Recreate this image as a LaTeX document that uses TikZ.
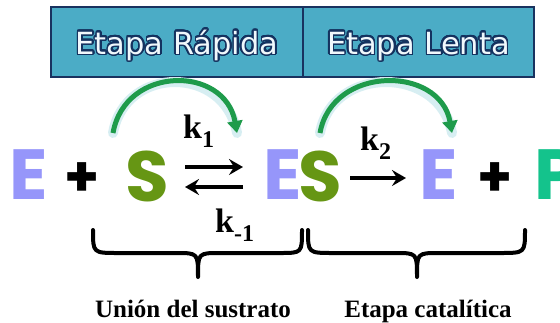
\documentclass[tikz,border=0pt]{standalone}
\usepackage{fontspec}
\setmainfont{Liberation Serif}
\newfontfamily\boxfont{DejaVu Sans}
\newfontfamily\bigfont{Poppins}
\usepackage[copies]{contour}
\contourlength{1.5pt}
\contournumber{32}
\usetikzlibrary{arrows.meta}
\definecolor{boxfill}{RGB}{75,172,198}
\definecolor{boxline}{RGB}{25,50,95}
\definecolor{titleblue}{RGB}{20,50,95}
\definecolor{titlefill}{RGB}{240,248,252}
\definecolor{enzcol}{RGB}{150,150,250}
\definecolor{subcol}{RGB}{102,150,20}
\definecolor{prodcol}{RGB}{20,195,140}
\definecolor{arcgreen}{RGB}{30,155,75}
\definecolor{glowblue}{RGB}{215,238,242}
\newcommand\ksub[2]{k\raisebox{-9pt}{\fontsize{24}{24}\selectfont #2}}
\begin{document}
\begin{tikzpicture}[x=1pt,y=-1pt,
 boxstyle/.style={draw=boxline,line width=2pt,fill=boxfill,minimum height=70pt,inner sep=0},
 boxtext/.style={font=\boxfont\fontsize{30.5}{30.5}\selectfont,text=titlefill,anchor=base,inner sep=0},
 bigletter/.style={font=\bigfont\bfseries\fontsize{71}{71}\selectfont,inner sep=0},
 plussign/.style={font=\bigfont\bfseries\fontsize{56}{56}\selectfont,inner sep=0},
 klabel/.style={font=\bfseries\fontsize{34}{34}\selectfont,inner sep=0,anchor=base west},
 rxarrow/.style={line width=3.5pt,-{Stealth[length=14pt,width=16pt,inset=5pt]}},
 glow/.style={line width=10pt,draw=glowblue,line cap=round},
 greenarc/.style={line width=5pt,draw=arcgreen,-{Triangle[length=12pt,width=15pt]}},
 bracestyle/.style={line width=4pt,line cap=round,line join=round},
 bottomtext/.style={font=\bfseries\fontsize{25}{25}\selectfont,anchor=base,inner sep=0}]
\useasboundingbox (0,0) rectangle (560,322);
% header boxes
\node[boxstyle,minimum width=252pt] (fastbox) at (177,42) {};
\node[boxstyle,minimum width=231pt] (slowbox) at (418.5,42) {};
\node[boxtext] (fasttext) at (177,54) {\contour{titleblue}{Etapa Rápida}};
\node[boxtext] (slowtext) at (418.5,54) {\contour{titleblue}{Etapa Lenta}};
% equation
\node[bigletter,text=enzcol] (E1) at (28.5,175) {E};
\node[plussign] (plus1) at (82,180) {+};
\node[bigletter,text=subcol] (S1) at (147.5,176) {S};
\node[bigletter,text=enzcol] (E2) at (283,175) {E};
\node[bigletter,text=subcol] (S2) at (320,176) {S};
\node[bigletter,text=enzcol] (E3) at (439,175) {E};
\node[plussign] (plus2) at (495,180) {+};
\node[bigletter,text=prodcol,anchor=west] (P) at (534,175) {P};
% reaction arrows
\coordinate (f1) at (185,167); \coordinate (f2) at (243,167);
\coordinate (b1) at (243,187); \coordinate (b2) at (185,187);
\coordinate (c1) at (350,178); \coordinate (c2) at (406,178);
\draw[rxarrow] (f1) -- (f2);
\draw[rxarrow] (b1) -- (b2);
\draw[rxarrow] (c1) -- (c2);
% rate constants
\node[klabel] (k1) at (183,138) {\ksub{}{1}};
\node[klabel] (km1) at (215,232) {\ksub{}{-1}};
\node[klabel] (k2) at (360,150) {\ksub{}{2}};
% green curved arrows
\coordinate (aAs) at (113,133); \coordinate (aAe) at (237,133);
\coordinate (aBs) at (320,133); \coordinate (aBe) at (452,133);
\draw[glow] (aAs) .. controls (125,65) and (225,65) .. (aAe);
\draw[greenarc] (aAs) .. controls (125,65) and (225,65) .. (aAe);
\draw[glow] (aBs) .. controls (332,65) and (440,65) .. (aBe);
\draw[greenarc] (aBs) .. controls (332,65) and (440,65) .. (aBe);
% braces
\coordinate (lbL) at (93,230); \coordinate (lbT) at (198,277); \coordinate (lbR) at (302,230);
\coordinate (rbL) at (308,230); \coordinate (rbT) at (417,277); \coordinate (rbR) at (525,230);
\draw[bracestyle] (lbL) .. controls (93,253) .. (118,253) -- (176,253)
  .. controls (198,253) .. (lbT) .. controls (198,253) .. (220,253) -- (280,253)
  .. controls (302,253) .. (lbR);
\draw[bracestyle] (rbL) .. controls (308,253) .. (333,253) -- (395,253)
  .. controls (417,253) .. (rbT) .. controls (417,253) .. (439,253) -- (500,253)
  .. controls (525,253) .. (rbR);
% bottom labels
\node[bottomtext] (bind) at (193,317) {Unión del sustrato};
\node[bottomtext] (cat) at (428,317) {Etapa catalítica};
\end{tikzpicture}
\end{document}
